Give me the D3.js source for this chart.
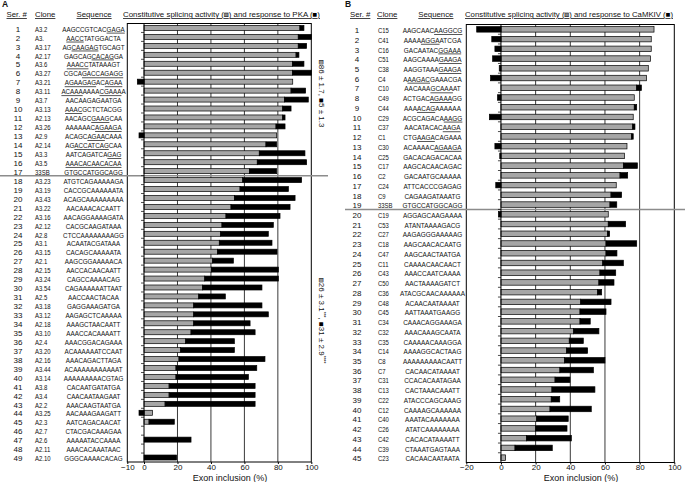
<!DOCTYPE html>
<html><head><meta charset="utf-8">
<script src="https://cdn.jsdelivr.net/npm/d3@7"></script>
<style>
body{margin:0;background:#fff}
svg{display:block}
text{font-family:"Liberation Sans",Arial,sans-serif;fill:#111}
.ul{text-decoration:underline}
</style>
</head><body>
<svg id="c" width="685" height="482"></svg>
<script>
// ---------- Panel A data ----------
const clonesA = ["A3.2","A3.","A3.17","A2.17","A3.6","A3.27","A3.21","A3.11","A3.7","A3.13","A2.13","A3.26","A2.9","A2.14","A3.3","A3.5","33SB","A3.23","A3.19","A3.43","A3.22","A3.16","A2.12","A2.8","A3.1","A3.15","A2.1","A2.15","A3.24","A3.54","A2.5","A3.18","A3.12","A2.18","A3.10","A2.4","A3.20","A2.16","A3.44","A3.14","A3.8","A3.4","A2.2","A3.25","A2.3","A2.7","A2.6","A2.11","A2.10"];
const seqA = ["AAGCCGTCAC[GAGA]","[AACC]TATGGACTA","AG[CAAGAG]TGCAGT","GAGCAG[CACAG]GA","[AAACC]TATAAAGT","CGCA[GACCAGAGG]","[AGAAGAG]AC[AGAA]","[ACAAA]AAAA[CGAAA]A","AACAAGAGAATGA","[AAAC]GCTCTACGG","AACAGC[GAAG]CAA","AAAAAAC[AGAAGA]","ACAGC[AGAA]CAAA","AG[ACCATCAG]CAA","AATCAGATCA[GAG]","[AAACACAACACAA]","GTGCCATGGCAGG","ATGTCAGAAAAAGA","CACCGCAAAAAATA","ACAGCAAAAAAAAA","AACAAACACAATT","AACAGGAAAAGATA","CACGCAAGATAAA","CTCCAAAAAAAAGG","ACAATACGATAAA","CACAGCAAAAATA","AAGCGGAAAAACA","AACCACAACAATT","CAGCCAAAACAG","CAGAAAAAATTAAT","AACCAACTACAA","GAGGAAAGATGA","AAGAGCTCAAAAA","AAAGCTAACAATT","AAACCACAAAATT","AAACGGACAGAAA","ACAAAAAATCCAAT","AAACAGACTTAGA","ACAAAAAAAAAAAT","AAAAAAAAACGTAG","CACAATGATATGA","CAACAATAAGAAT","AAACAAGTAATGA","AACAAAGAAGATT","AATCAGACAACAT","CTACGACAAAGAA","AAAAATACCAAAA","AAACACAAATAAC","GGGCAAAACACAG"];
const constA = [93.2,92.2,92.2,90.9,88.7,88.7,88.9,87.9,83.9,82.9,82.9,78.9,79.3,72.9,68.9,67.7,63.0,59.0,57.4,54.0,52.0,49.0,46.6,45.8,45.0,44.0,41.0,40.2,36.3,34.9,32.7,29.7,29.7,29.7,28.1,24.9,21.9,20.9,19.1,19.1,15.0,15.0,12.6,5.0,3.0,0,0,0,0];
const respA = [2.4,7.8,5.0,1.7,6.9,11.3,-4,8.7,14.3,5.0,1.4,5.4,-3,6.4,27.3,29.5,16.3,35.2,28.9,36.3,35.3,32.3,30.7,28.5,31.5,35.5,12.4,40.1,44.0,35.6,15.9,40.8,44.6,33.7,38.3,29.1,32.1,51.4,48.3,43.3,51.4,51.4,53.8,-3,15.1,0,28.1,0,19.5];
const ticksA = [-10,0,20,40,60,80,100];
const gridA = [20,40,60,80];

// ---------- Panel B data ----------
const clonesB = ["C15","C41","C16","C51","C38","C4","C10","C49","C44","C29","C37","C1","C30","C25","C17","C2","C24","C9","33SB","C19","C53","C27","C18","C47","C11","C43","C50","C36","C48","C45","C34","C32","C35","C14","C8","C7","C31","C13","C22","C12","C40","C26","C42","C39","C23"];
const seqB = ["AAGCAAC[AAGGCG]","AAAA[AGGA]ATCGA","GACAATAC[GGAAA]","AAGCAAAA[GAAGA]","AAGGTAAA[GAAGA]","A[AAGAC]GAAACGA","AACAAA[GCAAA]AT","ACTGAC[AGAAA]GG","AAA[ACAG]AAAAAA","ACGCAGACA[AAGG]","AACATACAC[AAGA]","CTG[AAGA]CAGAAA","ACAAAAC[AGAAGA]","GACACAGACACAA","AAGCACAACAGAC","GACAATGCAAAAA","ATTCACCCGAGAG","CAGAAGATAAATG","GTGCCATGGCAGG","AGGAGCAAGAAAA","ATANTAAAAGACG","AAGAGGGAAAAAG","AAGCAACACAATG","AAGCAACTAATGA","CAAAACAACAACT","AAACCAATCAAAA","AACTAAAAGATCT","ATACGCAACAAAAAA","ACAACAATAAAAT","AATTAAATGAAGG","CAAACAGGAAAGA","AAACAAAGCAATA","CAAAAACAAAGGA","AAAAGGCACTAAG","AAAAAAAAACAATT","CACAACATAAAAT","CCACACAATAGAA","CACTAAACAAATT","ATACCCAGCAAAG","CAAAAGCAAAAAA","AAATACAAAAAAA","ATATCAAAAAAAA","CACACATAAAATT","CTAAATGAGTAAA","CACAACAATAATA"];
const constB = [88.3,86.7,86.7,86.2,85.0,84.0,78.3,76.9,76.9,76.3,76.0,75.4,72.7,71.2,70.6,68.7,66.5,63.5,62.9,61.9,61.9,61.5,60.6,60.6,58.7,57.1,56.5,55.8,46.0,45.6,45.6,41.9,39.4,37.9,36.7,34.0,31.2,29.4,29.0,28.3,20.6,20.0,14.8,8.1,2.7];
const respB = [-14,-5.3,-3.5,-4.8,-1,-6,2.7,-2,1.4,-6.7,1.3,0.9,-3.5,-0.7,8.1,4.4,-3,6.1,3.9,-1.5,10.0,1.2,17.7,6.3,11.9,9.1,8.7,2.3,17.5,15.0,5.9,14.6,8.1,12.1,23.3,19.3,8.6,24.8,4.9,23.8,18.2,18.1,25.8,21.5,0];
const ticksB = [-20,0,20,40,60,80,100];
const gridB = [20,40,60,80];

const svg = d3.select("#c");

function segs(s){
  return s.split(/(\[[^\]]*\])/).filter(d=>d.length).map(d=>d[0]==="["?{t:d.slice(1,-1),u:true}:{t:d,u:false});
}

function panel(o){
  const n = o.clones.length;
  const ser = d3.range(1,n+1);
  const x = d3.scaleLinear().domain(o.dom).range(o.xr);
  const y = d3.scaleBand().domain(ser).range(o.yr).paddingInner(0).paddingOuter(0);
  const g = svg.append("g");

  g.append("text").attr("x",o.letterX).attr("y",7).attr("font-size",8.5).attr("font-weight","bold").text(o.letter);

  const hy = 17;
  g.append("text").attr("class","ul").attr("x",o.hSer).attr("y",hy).attr("font-size",7.8).text("Ser. #");
  g.append("text").attr("class","ul").attr("x",o.hClone).attr("y",hy).attr("font-size",7.8).text("Clone");
  g.append("text").attr("class","ul").attr("x",o.hSeq).attr("y",hy).attr("font-size",7.8).text("Sequence");
  const ht = g.append("text").attr("class","ul").attr("x",o.hCon).attr("y",hy).attr("font-size",7.8)
    .attr("textLength",o.hConLen).attr("lengthAdjust","spacingAndGlyphs");
  ht.append("tspan").text("Constitutive splicing activity (");
  ht.append("tspan").style("fill","#888").style("stroke","#000").style("stroke-width",0.4).text("\u25A0");
  ht.append("tspan").text(") and response to "+o.agent+" (");
  ht.append("tspan").style("fill","#000").text("\u25A0");
  ht.append("tspan").text(")");

  g.selectAll(".grid").data(o.grid).enter().append("line")
    .attr("x1",d=>x(d)).attr("x2",d=>x(d)).attr("y1",o.yr[0]).attr("y2",o.yr[1])
    .attr("stroke","#3a3a3a").attr("stroke-width",1);

  g.append("rect").attr("x",x(o.dom[0])).attr("y",o.yr[0]).attr("width",x(o.dom[1])-x(o.dom[0])).attr("height",o.yr[1]-o.yr[0])
    .attr("fill","none").attr("stroke","#000").attr("stroke-width",1);

  const sy = y(o.sepAfter+1);
  g.append("line").attr("x1",o.sepX[0]).attr("x2",o.sepX[1]).attr("y1",sy).attr("y2",sy).attr("stroke","#8c8c8c").attr("stroke-width",1.5);

  const bh = o.bh;
  const rows = ser.map((s,i)=>({s, c:o.cons[i], r:o.resp[i]}));
  g.selectAll(".gb").data(rows.filter(d=>d.c>0)).enter().append("rect")
    .attr("x",x(0)).attr("y",d=>y(d.s)+(y.bandwidth()-bh)/2)
    .attr("width",d=>x(d.c)-x(0)).attr("height",bh)
    .attr("fill","#a6a6a6").attr("stroke","#000").attr("stroke-width",0.7);
  g.selectAll(".bb").data(rows.filter(d=>d.r!==0)).enter().append("rect")
    .attr("x",d=>d.r>0?x(d.c):x(d.r)).attr("y",d=>y(d.s)+(y.bandwidth()-bh)/2)
    .attr("width",d=>d.r>0?x(d.c+d.r)-x(d.c):x(0)-x(d.r)).attr("height",bh)
    .attr("fill","#000").attr("stroke","#000").attr("stroke-width",0.7);

  g.append("line").attr("x1",x(0)).attr("x2",x(0)).attr("y1",o.yr[0]).attr("y2",o.yr[1]).attr("stroke","#000").attr("stroke-width",1);
  g.selectAll(".ct").data(d3.range(1,n)).enter().append("line")
    .attr("x1",x(0)-3).attr("x2",x(0)).attr("y1",d=>y(d+1)).attr("y2",d=>y(d+1)).attr("stroke","#000").attr("stroke-width",0.7);

  const ax = g.append("g").attr("transform",`translate(0,${o.yr[1]})`)
    .call(d3.axisBottom(x).tickValues(o.ticks).tickSize(2).tickPadding(1).tickFormat(d3.format("d")));
  ax.select(".domain").remove();
  ax.selectAll("text").attr("font-size",8).attr("dy","0.62em").attr("font-family","Liberation Sans, Arial, sans-serif").attr("fill","#111");
  g.append("text").attr("x",o.titleX).attr("y",481).attr("text-anchor","middle").attr("font-size",9).text("Exon inclusion (%)");

  ser.forEach((s,i)=>{
    const cy = y(s)+y.bandwidth()/2+1+2.7;
    g.append("text").attr("x",o.serX).attr("y",cy).attr("text-anchor","middle").attr("font-size",o.serFs).text(s);
    g.append("text").attr("transform",`translate(${o.cloneX},${cy}) scale(${o.cloneSx},1)`).attr("font-size",o.cloneFs).text(o.clones[i]);
    const t = g.append("text").attr("transform",`translate(${o.seqX},${cy}) scale(${o.seqSx},1)`).attr("text-anchor","middle").attr("font-size",o.seqFs);
    segs(o.seqs[i]).forEach(sg=>{
      const ts = t.append("tspan").text(sg.t);
      if(sg.u) ts.attr("class","ul");
    });
  });
  return {x,y,g};
}

const A = panel({letter:"A",letterX:2,clones:clonesA,seqs:seqA,cons:constA,resp:respA,agent:"PKA",
  dom:[-10,100],xr:[127.3,311.3],yr:[23.5,462],ticks:ticksA,grid:gridA,sepAfter:17,sepX:[0,328],bh:5,
  hSer:6.5,hClone:35,hSeq:76.5,hCon:123,hConLen:197,titleX:230,
  serX:18,serFs:8,cloneX:35,cloneFs:7.5,cloneSx:0.8,seqX:93.5,seqFs:7,seqSx:0.9});

const B = panel({letter:"B",letterX:345,clones:clonesB,seqs:seqB,cons:constB,resp:respB,agent:"CaMKIV",
  dom:[-20,100],xr:[466.3,674.3],yr:[24.5,462.5],ticks:ticksB,grid:gridB,sepAfter:19,sepX:[345,685],bh:5.5,
  hSer:350,hClone:377,hSeq:418.3,hCon:465,hConLen:208,titleX:581,
  serX:357,serFs:8,cloneX:378,cloneFs:7,cloneSx:0.85,seqX:432.5,seqFs:7,seqSx:0.92});

function rotLabel(xp, yp, gval, bval, gs, bs){
  const t = svg.append("text").attr("transform",`translate(${xp},${yp}) rotate(90)`).attr("font-size",8);
  t.append("tspan").style("fill","#999").style("stroke","#000").style("stroke-width",0.4).text("\u25A0");
  t.append("tspan").text(gval);
  if(gs) t.append("tspan").attr("font-size",5).attr("dy",-2.5).text(gs);
  t.append("tspan").attr("dy",gs?2.5:0).text(", ");
  t.append("tspan").style("fill","#000").text("\u25A0");
  t.append("tspan").text(bval);
  if(bs) t.append("tspan").attr("font-size",5).attr("dy",-2.5).text(bs);
}
rotLabel(319, 60, "86 \u00B1 1.7", "5 \u00B1 1.3", "", "");
rotLabel(319, 278, "26 \u00B1 3.1", "31 \u00B1 2.9", "***", "****");
</script>
</body></html>
